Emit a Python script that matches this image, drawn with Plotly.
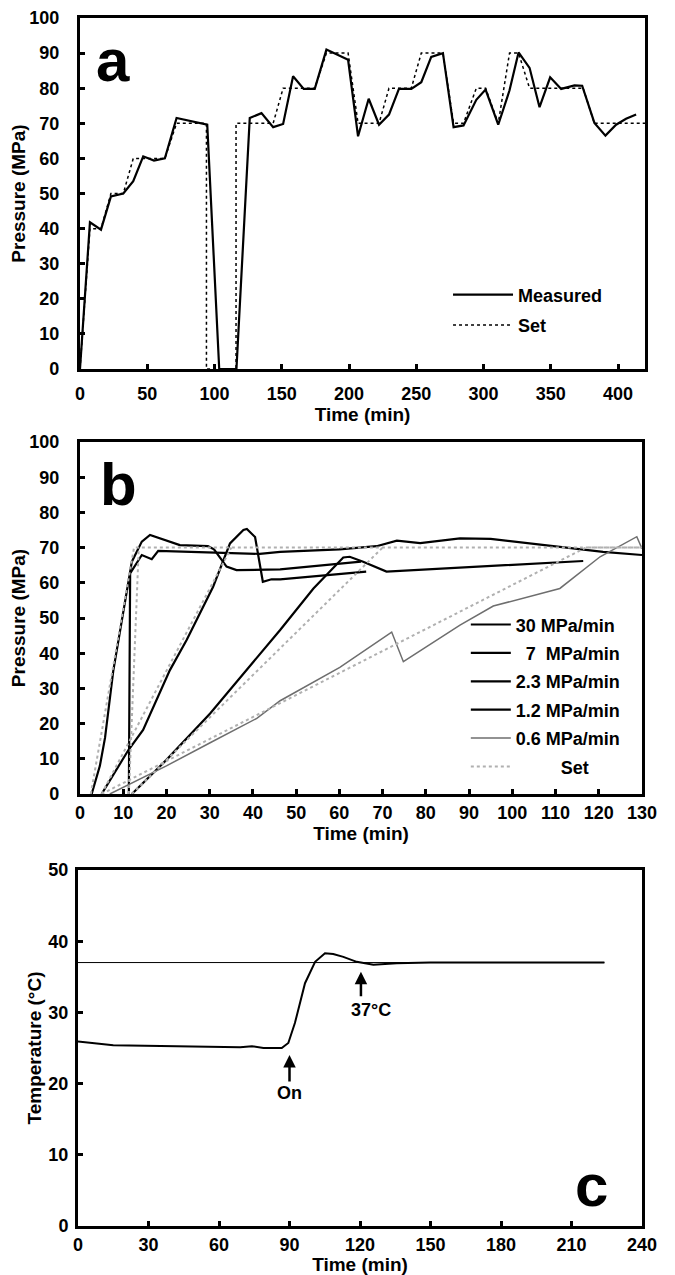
import plotly.graph_objects as go

# ---------------- Panel a data ----------------
a_meas_t = [0, 7.4, 15.6, 23, 32.2, 39.6, 47, 55, 63.1, 71.8, 94.6, 103.5, 116.3, 126.2, 134.9,
            143.6, 151, 158.4, 166.3, 174.5, 183.2, 199.3, 206.7, 214.6, 222.3, 229.7, 237.1,
            246.3, 253.7, 261.1, 269.8, 277.7, 285.1, 294.6, 301.5, 310.9, 319.3, 326, 334.2,
            341.6, 349.5, 357.7, 367.6, 373.3, 382.4, 390.6, 398.5, 405.9, 413.4]
a_meas_p = [0, 41.8, 39.7, 49.2, 50, 53.5, 60.6, 59.4, 60, 71.5, 69.6, 0, 0, 71.5, 72.9,
            68.9, 69.8, 83.4, 79.8, 79.8, 91, 88.1, 66.3, 77, 69.6, 72.5, 79.8,
            79.8, 81.7, 88.9, 90, 68.9, 69.4, 76.7, 79.6, 69.6, 79.4, 90.2, 85.8,
            74.6, 83.1, 79.8, 80.8, 80.7, 70.1, 66.5, 69.6, 71.3, 72.5]
a_set_t = [0, 7.4, 15.6, 23, 32.2, 39.6, 63.1, 71.8, 94, 94, 116, 116, 143.6, 151, 174.5, 183.2,
           199.3, 206.7, 222.3, 229.7, 246.3, 253.7, 269.8, 277.7, 285.1, 294.6, 301.5, 310.9,
           319.3, 326, 334.2, 374, 382.4, 420]
a_set_p = [0, 40, 40, 50, 50, 60, 60, 70, 70, 0, 0, 70, 70, 80, 80, 90,
           90, 70, 70, 80, 80, 90, 90, 70, 70, 80, 80, 70,
           90, 90, 80, 80, 70, 70]

# ---------------- Panel b data ----------------
b30_t = [11.3, 11.6, 14.3, 16.6, 18.1, 33, 41.6, 46.3, 60, 68.6, 73.3, 78.7, 87.9, 95, 107.2, 121, 130]
b30_p = [0, 62.7, 67.9, 66.7, 69.1, 68.4, 68.2, 68.8, 69.5, 70.4, 72, 71.3, 72.6, 72.5, 70.7, 68.8, 67.9]
b7_t = [2.7, 4.6, 5.8, 7.7, 12, 14.3, 16.2, 23.1, 29.6, 31, 33.9, 36.2, 46.3, 60, 65]
b7_p = [0, 8, 16, 35, 66, 71.7, 73.6, 70.7, 70.4, 69.5, 64.6, 63.6, 63.8, 65.5, 66]
b23_t = [5, 11.2, 14.6, 20.8, 24.7, 30.8, 34.7, 37.8, 38.6, 40.5, 42.3, 44.3, 46.3, 66.2]
b23_p = [0, 12.5, 18.2, 35.2, 43.8, 58.9, 71.2, 75, 75.3, 73, 60.3, 61, 61, 63.2]
b12_t = [12, 20, 30.1, 38.6, 46.3, 54, 60.9, 62.4, 65.5, 70.9, 91.8, 116.4]
b12_p = [0, 9.7, 22.9, 35.2, 46.6, 58.4, 67.2, 67.4, 66, 63.2, 64.6, 66.2]
b06_t = [6.9, 20, 30, 40.9, 46.3, 60.1, 72.1, 74.8, 87.9, 95.6, 111, 120.3, 128.8, 130]
b06_p = [0, 8, 14.5, 21.5, 26.5, 36, 46, 37.6, 48, 53.4, 58.4, 67.4, 73.1, 69.7]
bset_t = [11.3, 13.6, None, 2.5, 12.5, 130, None, 5, 35, None, 12, 70, None, 5, 117, 130]
bset_p = [0, 70, None, 0, 70, 70, None, 0, 70, None, 0, 70, None, 0, 70, 70]
b_names = ["30 MPa/min", "\u00a0\u00a07\u00a0\u00a0MPa/min", "2.3 MPa/min", "1.2 MPa/min", "0.6 MPa/min",
           "\u00a0\u00a0\u00a0\u00a0\u00a0\u00a0\u00a0\u00a0\u00a0Set"]

# ---------------- Panel c data ----------------
c_t = [0, 15, 28.4, 45, 59, 69, 74, 78.9, 86.7, 89.5, 92.3, 96.6, 100.9, 105.1, 108.6, 112.9,
       118.6, 125.7, 135.6, 149.8, 178.2, 224]
c_T = [25.9, 25.4, 25.3, 25.25, 25.2, 25.1, 25.25, 25.0, 25.0, 25.7, 28.5, 34.1, 37.1, 38.3, 38.2,
       37.8, 37.1, 36.7, 36.9, 37, 37, 37]
c_set_t = [0, 224]
c_set_T = [37, 37]

FONT = "Liberation Sans, Arial, Helvetica, sans-serif"

fig = go.Figure()

# Panel a
fig.add_trace(go.Scatter(x=a_meas_t, y=a_meas_p, mode="lines", name="Measured",
                         line=dict(color="black", width=2.2), xaxis="x", yaxis="y",
                         legend="legend", legendgroup="am"))
fig.add_trace(go.Scatter(x=a_set_t, y=a_set_p, mode="lines", name="Set",
                         line=dict(color="black", width=1.5, dash="3px,3px"), xaxis="x", yaxis="y",
                         legend="legend", legendgroup="as"))

# Panel b
for t, p, nm, g in [(b30_t, b30_p, b_names[0], "b1"), (b7_t, b7_p, b_names[1], "b2"),
                    (b23_t, b23_p, b_names[2], "b3"), (b12_t, b12_p, b_names[3], "b4")]:
    fig.add_trace(go.Scatter(x=t, y=p, mode="lines", name=nm,
                             line=dict(color="black", width=2.2), xaxis="x2", yaxis="y2",
                             legend="legend2", legendgroup=g))
fig.add_trace(go.Scatter(x=b06_t, y=b06_p, mode="lines", name=b_names[4],
                         line=dict(color="#6e6e6e", width=1.5), xaxis="x2", yaxis="y2",
                         legend="legend2", legendgroup="b5"))
fig.add_trace(go.Scatter(x=bset_t, y=bset_p, mode="lines", name=b_names[5], connectgaps=False,
                         line=dict(color="#b0b0b0", width=2, dash="dot"), xaxis="x2", yaxis="y2",
                         legend="legend2", legendgroup="b6"))

# Panel c
fig.add_trace(go.Scatter(x=c_set_t, y=c_set_T, mode="lines", showlegend=False,
                         line=dict(color="black", width=1), xaxis="x3", yaxis="y3"))
fig.add_trace(go.Scatter(x=c_t, y=c_T, mode="lines", showlegend=False,
                         line=dict(color="black", width=2), xaxis="x3", yaxis="y3"))

tickfont = dict(family=FONT, size=18, color="black", weight="bold")
titlefont = dict(family=FONT, size=19, color="black", weight="bold")

def ax(**kw):
    d = dict(showline=True, linewidth=3, linecolor="black", mirror=True,
             ticks="inside", ticklen=5, tickwidth=3, tickcolor="black",
             showgrid=False, zeroline=False, tickfont=tickfont, title_font=titlefont,
             ticklabelstandoff=4, automargin=True)
    d.update(kw)
    return d

# The page body adds an 8px margin, so the figure is sized to fit the 675x1275 window.
fig.update_layout(
    width=667, height=1267,
    margin=dict(l=70, r=30, t=10, b=49, autoexpand=False),
    paper_bgcolor="white", plot_bgcolor="white",
    font=dict(family=FONT, color="black"),
    xaxis=ax(domain=[0.0035, 1], range=[0, 420], tickvals=[0, 50, 100, 150, 200, 250, 300, 350, 400],
             ticklabelstandoff=6, title=dict(text="Time (min)", standoff=2), anchor="y"),
    yaxis=ax(domain=[0.7094, 1], range=[0, 100], dtick=10, ticklabelstandoff=14,
             title=dict(text="Pressure (MPa)", standoff=0), anchor="x"),
    xaxis2=ax(domain=[0.0035, 0.9947], range=[0, 130], dtick=10, ticklabelstandoff=0,
              title=dict(text="Time (min)", standoff=0), anchor="y2"),
    yaxis2=ax(domain=[0.3576, 0.6490], range=[0, 100], dtick=10, ticklabelstandoff=14,
              title=dict(text="Pressure (MPa)", standoff=0), anchor="x2"),
    xaxis3=ax(domain=[0, 0.9947], range=[0, 240], dtick=30, ticklabelstandoff=0,
              title=dict(text="Time (min)", standoff=4), anchor="y3"),
    yaxis3=ax(domain=[0, 0.2947], range=[0, 50], dtick=10, ticklabelstandoff=3,
              title=dict(text="Temperature (°C)", standoff=2), anchor="x3"),
    legend=dict(x=0.6526, y=0.786, xanchor="left", yanchor="top", bgcolor="rgba(0,0,0,0)",
                font=dict(family=FONT, size=18, color="black", weight="bold"),
                traceorder="grouped", tracegroupgap=4, itemwidth=60),
    legend2=dict(x=0.684, y=0.513, xanchor="left", yanchor="top", bgcolor="rgba(0,0,0,0)",
                 font=dict(family=FONT, size=18, color="black", weight="bold"),
                 traceorder="grouped", tracegroupgap=2, itemwidth=40),
    showlegend=True,
)

big = dict(family=FONT, size=60, color="black", weight="bold")
fig.add_annotation(text="a", x=0.058, y=0.88, xref="x domain", yref="y domain",
                   showarrow=False, font=big, xanchor="center", yanchor="middle")
fig.add_annotation(text="b", x=0.069, y=0.878, xref="x2 domain", yref="y2 domain",
                   showarrow=False, font=big, xanchor="center", yanchor="middle")
fig.add_annotation(text="c", x=0.91, y=0.115, xref="x3 domain", yref="y3 domain",
                   showarrow=False, font=big, xanchor="center", yanchor="middle")

small = dict(family=FONT, size=18, color="black", weight="bold")
fig.add_annotation(text="On", x=90, y=24.0, xref="x3", yref="y3", ax=0, ay=38,
                   showarrow=True, arrowhead=2, arrowsize=1, arrowwidth=2.5, arrowcolor="black",
                   font=small)
fig.add_annotation(text="", x=120.4, y=35.7, xref="x3", yref="y3", ax=0, ay=26,
                   showarrow=True, arrowhead=2, arrowsize=1, arrowwidth=2.5, arrowcolor="black")
fig.add_annotation(text="37°C", x=124.7, y=30.3, xref="x3", yref="y3", showarrow=False,
                   font=small)

fig.write_html("out.html")
